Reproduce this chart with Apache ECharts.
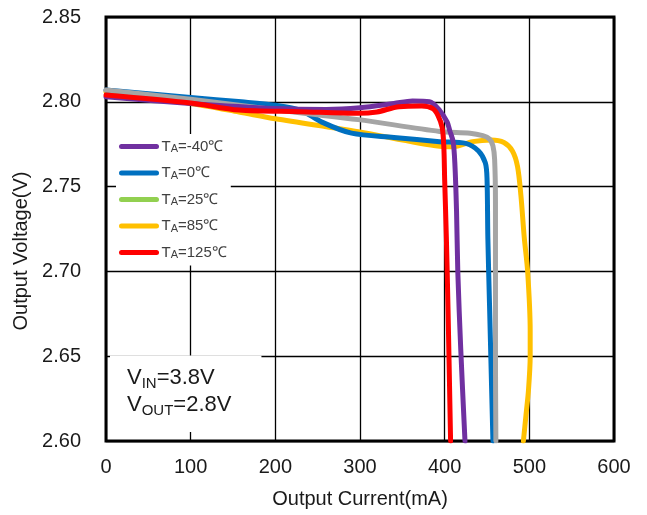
<!DOCTYPE html>
<html>
<head>
<meta charset="utf-8">
<script src="https://cdn.jsdelivr.net/npm/echarts@6/dist/echarts.min.js"></script>
<style>
  html, body { margin: 0; padding: 0; background: #fff; }
  #chart { width: 647px; height: 515px; }
</style>
</head>
<body>
<div id="chart"></div>
<script>
// legend names, in legend order
var seriesNames = ["TA=-40℃", "TA=0℃", "TA=25℃", "TA=85℃", "TA=125℃"];

// [output current mA, output voltage V]
var tN40 = [[0, 2.803], [100, 2.799], [200, 2.796], [260, 2.7955], [300, 2.7965], [340, 2.799],
  [362, 2.8005], [382, 2.800], [394, 2.795], [403, 2.788], [406, 2.783], [410, 2.7765],
  [412, 2.764], [414, 2.736], [415.5, 2.70], [419, 2.654], [424, 2.60]];
var t0 = [[0, 2.807], [100, 2.8025], [160, 2.800], [200, 2.798], [230, 2.795], [255, 2.788],
  [290, 2.7815], [340, 2.779], [394, 2.7765], [425, 2.7755], [440, 2.771], [448, 2.764],
  [450, 2.755], [451, 2.72], [453, 2.68], [455, 2.64], [457, 2.60]];
var t25 = [[0, 2.807], [100, 2.8015], [157, 2.798], [229, 2.7935], [298, 2.7895], [394, 2.7825],
  [430, 2.7815], [445, 2.780], [453, 2.778], [457, 2.774], [459, 2.766], [460, 2.74],
  [460, 2.70], [460, 2.65], [460.5, 2.60]];
var t85 = [[0, 2.806], [100, 2.799], [157, 2.794], [200, 2.790], [298, 2.7824], [394, 2.7738],
  [410, 2.7735], [433, 2.7765], [455, 2.7775], [470, 2.776], [480, 2.771], [486, 2.762],
  [490, 2.745], [494, 2.72], [498, 2.70], [501, 2.665], [501, 2.65], [499, 2.63],
  [496, 2.615], [493, 2.60]];
var t125 = [[0, 2.804], [100, 2.7993], [157, 2.7951], [229, 2.7942], [298, 2.7932], [320, 2.794],
  [346, 2.7971], [373, 2.7975], [386, 2.796], [392, 2.792], [397, 2.785], [399, 2.7735],
  [400, 2.754], [402, 2.72], [404, 2.677], [407, 2.60]];

var seriesData = [tN40, t0, t25, t85, t125];
var lineColors = ["#7030A0", "#0070C0", "#A5A5A5", "#FFC000", "#FF0000"];
var legendColors = ["#7030A0", "#0070C0", "#92D050", "#FFC000", "#FF0000"];
var drawOrder = [5, 3, 4, 2, 6];

// axis ranges
var xMin = 0, xMax = 600, xStep = 100;
var yMin = 2.60, yMax = 2.85, yStep = 0.05;

var myChart = echarts.init(document.getElementById("chart"));

var series = [];
var legendData = [];
for (var i = 0; i < seriesNames.length; i++) {
  series.push({
    name: seriesNames[i],
    type: "line",
    data: seriesData[i],
    smooth: 0.3,
    symbol: "none",
    z: drawOrder[i],
    itemStyle: { color: lineColors[i] },
    lineStyle: { color: lineColors[i], width: 5, cap: "round", join: "round" }
  });
  legendData.push({
    name: seriesNames[i],
    itemStyle: { color: legendColors[i] },
    lineStyle: { color: legendColors[i], width: 5, cap: "round" }
  });
}

var option = {
  backgroundColor: "#fff",
  animation: false,
  textStyle: { fontFamily: "Liberation Sans, Arial, sans-serif" },
  grid: {
    left: 106,
    top: 17,
    right: 33,
    bottom: 74,
    show: true,
    borderColor: "#000",
    borderWidth: 3,
    backgroundColor: "#fff"
  },
  title: {
    text: "{v|V}{s|IN}{v|=3.8V}\n{v|V}{s|OUT}{v|=2.8V}",
    left: 110,
    top: 353,
    padding: [11, 30, 14, 17],
    backgroundColor: "#fff",
    textStyle: {
      fontWeight: "normal",
      rich: {
        v: { fontSize: 22, lineHeight: 27, fontWeight: "normal", color: "#1a1a1a", fontFamily: "Liberation Sans, Arial" },
        s: { fontSize: 15, lineHeight: 20, fontWeight: "normal", verticalAlign: "bottom", color: "#1a1a1a", fontFamily: "Liberation Sans, Arial" }
      }
    }
  },
  legend: {
    orient: "vertical",
    left: 116,
    top: 134,
    padding: [5, 4, 5, 3],
    backgroundColor: "#fff",
    itemWidth: 35,
    itemHeight: 5,
    itemGap: 11,
    data: legendData,
    formatter: function (name) {
      return "{t|T}{s|A}{t|" + name.slice(2) + "}";
    },
    textStyle: {
      fontSize: 15,
      rich: {
        t: { fontSize: 15, lineHeight: 16, color: "#404040", fontFamily: "Liberation Sans, Arial" },
        s: { fontSize: 11, lineHeight: 10, verticalAlign: "bottom", color: "#404040", fontFamily: "Liberation Sans, Arial" }
      }
    }
  },
  xAxis: {
    type: "value",
    min: xMin,
    max: xMax,
    interval: xStep,
    name: "Output Current(mA)",
    nameLocation: "middle",
    nameGap: 48,
    nameTextStyle: { fontSize: 20, color: "#1a1a1a" },
    axisLine: { show: false },
    axisTick: { show: false },
    axisLabel: { fontSize: 20, color: "#1a1a1a", margin: 16 },
    splitLine: { show: true, lineStyle: { color: "#000", width: 1.3 } }
  },
  yAxis: {
    type: "value",
    min: yMin,
    max: yMax,
    interval: yStep,
    name: "Output Voltage(V)",
    nameLocation: "middle",
    nameGap: 74,
    nameTextStyle: { fontSize: 20, color: "#1a1a1a", padding: [0, 44, 0, 0] },
    axisLine: { show: false },
    axisTick: { show: false },
    axisLabel: {
      fontSize: 20,
      color: "#1a1a1a",
      margin: 25,
      formatter: function (v) { return v.toFixed(2); }
    },
    splitLine: { show: true, lineStyle: { color: "#000", width: 1.3 } }
  },
  series: series
};

myChart.setOption(option);
window.addEventListener("resize", function () {
  myChart.resize();
});
</script>
</body>
</html>
